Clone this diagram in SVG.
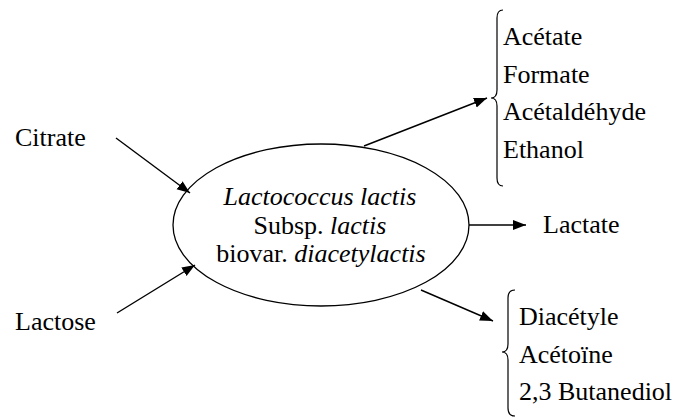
<svg xmlns="http://www.w3.org/2000/svg" width="677" height="419" viewBox="0 0 677 419">
<style>
text{font-size:26px;fill:#000}
.i{font-style:italic}
.ln{stroke:#000;stroke-width:1.4;fill:none}
.br{stroke:#000;stroke-width:1.2;fill:none}
</style>
<defs>
<marker id="ah" markerUnits="userSpaceOnUse" markerWidth="14" markerHeight="12" refX="13" refY="5" orient="auto">
<path d="M0,0 L13,5 L0,10 Z" fill="#000"/>
</marker>
</defs>
<rect width="677" height="419" fill="#fff"/>
<g font-family="'Liberation Serif', 'DejaVu Serif', serif">
<g id="center">
<ellipse cx="321" cy="225" rx="148" ry="81" fill="none" stroke="#000" stroke-width="1.3"/>
<text x="320" y="205" text-anchor="middle" class="i">Lactococcus lactis</text>
<text x="320" y="234" text-anchor="middle">Subsp. <tspan class="i">lactis</tspan></text>
<text x="321" y="262" text-anchor="middle">biovar. <tspan class="i">diacetylactis</tspan></text>
</g>
<g id="citrate"><text x="15" y="146">Citrate</text></g>
<g id="lactose"><text x="15" y="330">Lactose</text></g>
<g id="lactate"><text x="543" y="233">Lactate</text></g>
<g id="products1">
<path class="br" d="M503,10 Q497,10 497,18 L497,90 Q497,98 491,98 Q497,98 497,106 L497,178 Q497,186 503,186"/>
<text x="503" y="45">Acétate</text>
<text x="503" y="82.5">Formate</text>
<text x="503" y="120">Acétaldéhyde</text>
<text x="503" y="157.5">Ethanol</text>
</g>
<g id="products2">
<path class="br" d="M515,290 Q508,290 508,298 L508,344 Q508,352 502,352 Q508,352 508,360 L508,408 Q508,416 515,416"/>
<text x="519" y="325">Diacétyle</text>
<text x="519" y="362.5">Acétoïne</text>
<text x="519" y="400">2,3 Butanediol</text>
</g>
</g>
<g id="connectors">
<line class="ln" x1="116" y1="138" x2="190" y2="193" marker-end="url(#ah)"/>
<line class="ln" x1="117" y1="313" x2="195" y2="265" marker-end="url(#ah)"/>
<line class="ln" x1="364" y1="146" x2="487" y2="98" marker-end="url(#ah)"/>
<line class="ln" x1="469" y1="225" x2="526" y2="225" marker-end="url(#ah)"/>
<line class="ln" x1="421" y1="290" x2="493" y2="321" marker-end="url(#ah)"/>
</g>
</svg>
